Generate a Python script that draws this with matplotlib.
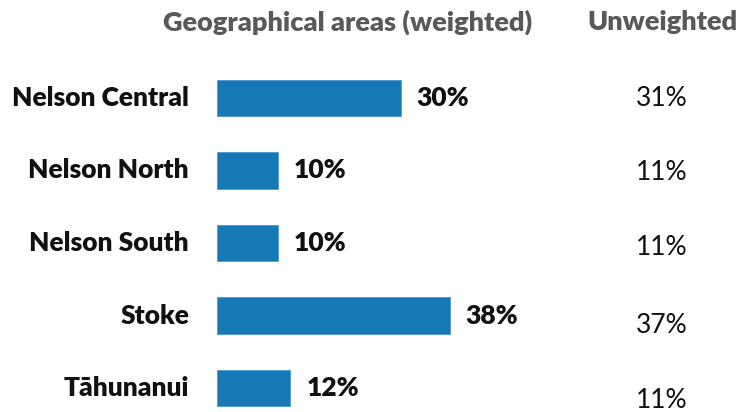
import matplotlib
matplotlib.use("Agg")
import matplotlib.pyplot as plt
from matplotlib.transforms import blended_transform_factory

# ── data ────────────────────────────────────────────────────────────────────
areas = ["Nelson Central", "Nelson North", "Nelson South", "Stoke", "Tāhunanui"]
weighted = [30, 10, 10, 38, 12]
unweighted = [31, 11, 11, 37, 11]

plt.rcParams["font.family"] = ["Lato", "DejaVu Sans"]

W, H = 736, 412
fig = plt.figure(figsize=(W / 100, H / 100), dpi=100)

# axes placed in pixel terms: bars start at x=217, 6.12 px per percent
px_per_pct = 6.12
x0 = 217
xmax = 80
row_h = 72.5
top_px = 98 - row_h / 2
ax_h = row_h * len(areas)
ax = fig.add_axes([x0 / W, 1 - (top_px + ax_h) / H, xmax * px_per_pct / W, ax_h / H])

ypos = list(range(len(areas)))
ax.barh(ypos, weighted, height=0.5, color="#1778B6", edgecolor="#4a9ad0", linewidth=0.6)
ax.set_xlim(0, xmax)
ax.set_ylim(len(areas) - 0.5, -0.5)
ax.axis("off")

for y, v in zip(ypos, weighted):
    ax.text(v + 16 / px_per_pct, y, f"{v}%", va="center", ha="left",
            fontsize=19, fontweight="heavy", color="#111111")

lab_tr = blended_transform_factory(fig.transFigure, ax.transData)
for y, name in zip(ypos, areas):
    fig.text(189 / W, y, name, transform=lab_tr, va="center", ha="right",
             fontsize=19, fontweight="heavy", color="#111111")

# unweighted column drifts slightly down relative to the bars
unw_offset = [0.0, 0.03, 0.06, 0.14, 0.17]
for y, v, off in zip(ypos, unweighted, unw_offset):
    fig.text(662 / W, y + off, f"{v}%", transform=lab_tr, va="center", ha="center",
             fontsize=19, color="#111111")

fig.text(348 / W, 1 - 22 / H, "Geographical areas (weighted)", ha="center", va="center",
         fontsize=19.5, fontweight="heavy", color="#595959")
fig.text(662 / W, 1 - 22 / H, "Unweighted", ha="center", va="center",
         fontsize=19.5, fontweight="heavy", color="#595959")

fig.savefig("out.png", dpi=100)
